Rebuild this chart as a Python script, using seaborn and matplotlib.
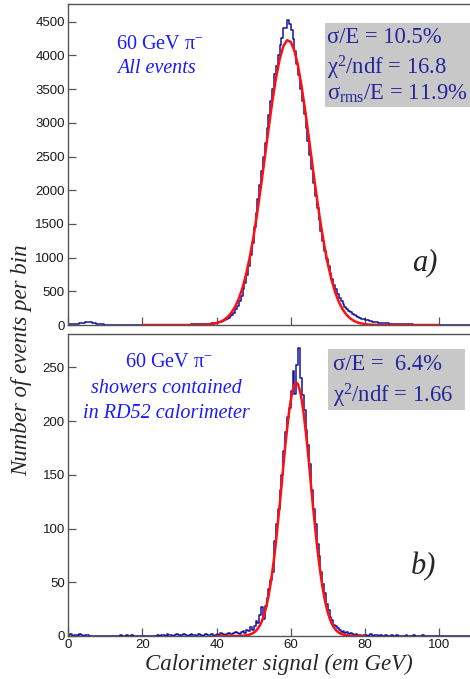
import numpy as np
import pandas as pd
import seaborn as sns
import matplotlib.pyplot as plt
from matplotlib.patches import Rectangle
from matplotlib.ticker import MultipleLocator

# histogram contents, 0.5 GeV bins from 0 to 110 GeV
bin_width = 0.5
top_counts = [
    12, 14, 15, 17, 18, 22, 27, 32, 37, 40, 42, 41, 38, 33, 27, 21, 16, 12, 9, 7,
    6, 5, 5, 4, 4, 4, 3, 4, 3, 3, 3, 3, 2, 3, 3, 2, 3, 2, 2, 3,
    2, 3, 2, 2, 3, 2, 3, 3, 2, 3, 3, 3, 4, 3, 4, 4, 4, 5, 4, 5,
    5, 5, 6, 6, 7, 7, 8, 9, 10, 11, 12, 13, 15, 16, 18, 20, 22, 25, 28, 31,
    36, 42, 50, 60, 72, 88, 106, 128, 150, 185, 230, 285, 350, 430, 530, 630, 740, 880, 1040, 1220,
    1450, 1660, 1870, 2080, 2280, 2500, 2700, 2920, 3110, 3320, 3500, 3720, 3840, 4010, 4150, 4260, 4400, 4410, 4520, 4460,
    4380, 4250, 4060, 3880, 3710, 3500, 3320, 3130, 2930, 2730, 2520, 2320, 2110, 1920, 1740, 1560, 1400, 1250, 1100, 980,
    870, 770, 680, 600, 530, 465, 405, 355, 310, 272, 240, 212, 188, 166, 148, 132, 118, 106, 95, 85,
    76, 68, 61, 55, 50, 45, 41, 37, 34, 31, 28, 26, 24, 22, 20, 18, 17, 15, 14, 13,
    12, 11, 10, 9, 9, 8, 7, 7, 6, 6, 5, 5, 4, 4, 4, 3, 3, 3, 2, 2,
    2, 1, 1, 1, 1, 1, 0, 1, 0, 0, 0, 0, 0, 0, 0, 0, 0, 0, 0, 0,
]
bottom_counts = [
    1, 2, 0, 1, 1, 0, 2, 1, 0, 1, 1, 0, 0, 0, 0, 0, 0, 0, 0, 0,
    0, 0, 0, 0, 0, 0, 0, 0, 1, 0, 0, 1, 0, 0, 1, 0, 0, 0, 0, 0,
    0, 0, 0, 0, 0, 0, 0, 0, 1, 0, 1, 1, 0, 2, 1, 1, 0, 1, 2, 1,
    0, 1, 2, 1, 0, 1, 2, 1, 1, 0, 2, 1, 0, 1, 2, 1, 1, 2, 0, 1,
    2, 1, 3, 2, 1, 2, 3, 2, 2, 3, 4, 3, 2, 4, 5, 3, 6, 5, 8, 6,
    9, 14, 12, 20, 27, 16, 28, 35, 44, 52, 60, 88, 104, 118, 136, 150, 172, 190, 204, 212,
    228, 247, 225, 252, 268, 240, 224, 210, 192, 178, 160, 136, 118, 104, 86, 74, 60, 48, 40, 30,
    24, 18, 15, 10, 9, 7, 6, 4, 5, 3, 4, 2, 3, 2, 1, 2, 1, 1, 0, 1,
    1, 0, 1, 2, 0, 1, 1, 0, 1, 0, 0, 1, 0, 0, 1, 0, 0, 1, 0, 0,
    0, 0, 1, 0, 0, 0, 1, 0, 0, 0, 0, 1, 0, 0, 0, 0, 0, 0, 0, 0,
    0, 0, 0, 0, 0, 0, 0, 0, 0, 0, 0, 0, 0, 0, 0, 0, 0, 0, 0, 0,
]

# gaussian fit curves
top_fit_x = np.arange(20, 101, 1.0)
top_fit_y = [
    0, 0, 0, 0, 0, 0, 0, 0, 0, 0, 0, 0, 0, 0,
    1, 2, 3, 5, 10, 17, 28, 47, 76, 119,
    182, 271, 393, 553, 762, 1017, 1324, 1676, 2067, 2482,
    2901, 3300, 3654, 3939, 4135, 4225, 4202, 4069, 3835, 3519,
    3143, 2733, 2314, 1907, 1530, 1196, 909, 673, 484, 340,
    232, 154, 100, 63, 38, 23, 13, 7, 4, 2,
    1,
    0, 0, 0, 0, 0, 0, 0, 0, 0, 0, 0, 0, 0, 0, 0, 0,
]
bottom_fit_x = np.arange(40, 80.5, 0.5)
bottom_fit_y = [
    0, 0, 0, 0, 0, 0, 0, 0, 0, 0, 0, 0, 0,
    0.1, 0.2, 0.4, 0.6, 0.9, 1.4, 2.1, 3.1, 4.4, 6.3,
    8.8, 12.1, 16.4, 21.8, 28.8, 37, 47, 59, 72, 87,
    104, 121, 139, 158, 176, 192, 207, 219, 228, 234,
    236,
    234, 228, 219, 207, 192, 176, 158, 139, 121, 104,
    87, 72, 59, 47, 37, 28.8, 21.8, 16.4, 12.1, 8.8,
    6.3, 4.4, 3.1, 2.1, 1.4, 0.9, 0.6, 0.4, 0.2, 0.1,
    0, 0, 0, 0, 0, 0, 0,
]

top_stats = ["σ/E = 10.5%", "χ$^2$/ndf = 16.8", "σ$_{\\rm rms}$/E = 11.9%"]
bottom_stats = ["σ/E =  6.4%", "χ$^2$/ndf = 1.66"]

sns.set_theme(style="white")
plt.rcParams["font.family"] = ["Liberation Sans", "DejaVu Sans"]
plt.rcParams["mathtext.fontset"] = "custom"
plt.rcParams["mathtext.rm"] = "Liberation Serif"
plt.rcParams["mathtext.it"] = "Liberation Serif:italic"
plt.rcParams["mathtext.bf"] = "Liberation Serif:bold"

W, H = 470, 679
fig = plt.figure(figsize=(W / 100, H / 100), dpi=100)

def px(x, y):
    return x / W, 1 - y / H

centers = np.arange(len(top_counts)) * bin_width + bin_width / 2
hist_col = "#14149a"
fit_col = "#ff1010"
serif = ["Liberation Serif", "DejaVu Serif"]

ax_w = 110 * 3.707 / W
ax1 = fig.add_axes([68.3 / W, 1 - 325 / H, ax_w, 321 / H])
ax2 = fig.add_axes([68.3 / W, 1 - 636 / H, ax_w, 302 / H])

panels = [
    (ax1, top_counts, top_fit_x, top_fit_y, (0, 4763), 500, 100),
    (ax2, bottom_counts, bottom_fit_x, bottom_fit_y, (0, 281), 50, 10),
]
for ax, counts, fx, fy, ylim, ymaj, ymin in panels:
    df = pd.DataFrame({"signal": centers, "n": counts})
    sns.histplot(data=df, x="signal", weights="n", binwidth=bin_width, binrange=(0, 110),
                 element="step", fill=False, color=hist_col, linewidth=1.1, ax=ax)
    sns.lineplot(x=fx, y=fy, color=fit_col, linewidth=1.8, ax=ax)
    ax.set_xlim(0, 110)
    ax.set_ylim(*ylim)
    ax.set(xlabel=None, ylabel=None)
    ax.xaxis.set_major_locator(MultipleLocator(20))
    ax.xaxis.set_minor_locator(MultipleLocator(5))
    ax.yaxis.set_major_locator(MultipleLocator(ymaj))
    ax.yaxis.set_minor_locator(MultipleLocator(ymin))
    ax.tick_params(which="major", direction="in", length=6, width=0.9,
                   color="#555555", labelsize=9.5, labelcolor="#1a1a1a", pad=2.5)
    ax.tick_params(which="minor", direction="in", length=3.2, width=0.8,
                   color="#555555")
    ax.tick_params(bottom=True, left=True, top=False, right=False)
    for s in ax.spines.values():
        s.set_color("#555555")
        s.set_linewidth(1.0)

ax1.tick_params(labelbottom=False)

# stats boxes
fig.add_artist(Rectangle(px(325, 107), 150 / W, 84 / H, transform=fig.transFigure,
                         facecolor="#c8c8c8", edgecolor="none"))
fig.add_artist(Rectangle(px(328, 410), 137 / W, 61 / H, transform=fig.transFigure,
                         facecolor="#c8c8c8", edgecolor="none"))
stat_col = "#24249c"
for txt, yb in zip(top_stats, [43, 74, 100]):
    fig.text(*px(327, yb), txt, fontsize=16.3, family=serif, color=stat_col, va="baseline")
for txt, yb in zip(bottom_stats, [370, 402]):
    fig.text(*px(333, yb), txt, fontsize=16.3, family=serif, color=stat_col, va="baseline")

lab_col = "#1a1aff"
fig.text(*px(159.5, 49), "60 GeV π$^{-}$", fontsize=14.5, family=serif, color=lab_col,
         ha="center", va="baseline")
fig.text(*px(117, 73), "All events", fontsize=14.5, family=serif, style="italic",
         color=lab_col, va="baseline")
fig.text(*px(169, 367), "60 GeV π$^{-}$", fontsize=14.5, family=serif, color=lab_col,
         ha="center", va="baseline")
fig.text(*px(166, 393), "showers contained", fontsize=14.5, family=serif, style="italic",
         color=lab_col, ha="center", va="baseline")
fig.text(*px(166, 418), "in RD52 calorimeter", fontsize=14.5, family=serif, style="italic",
         color=lab_col, ha="center", va="baseline")

fig.text(*px(425, 263), "a)", fontsize=22, family=serif, style="italic", ha="center", va="center")
fig.text(*px(424, 567), "b)", fontsize=22, family=serif, style="italic", ha="center", va="center")

fig.text(*px(22, 360), "Number of events per bin", fontsize=16.5, family=serif, style="italic",
         rotation=90, ha="center", va="center")
fig.text(*px(278.5, 664), "Calorimeter signal (em GeV)", fontsize=16.5, family=serif,
         style="italic", ha="center", va="center")

fig.savefig("out.png", dpi=100)
